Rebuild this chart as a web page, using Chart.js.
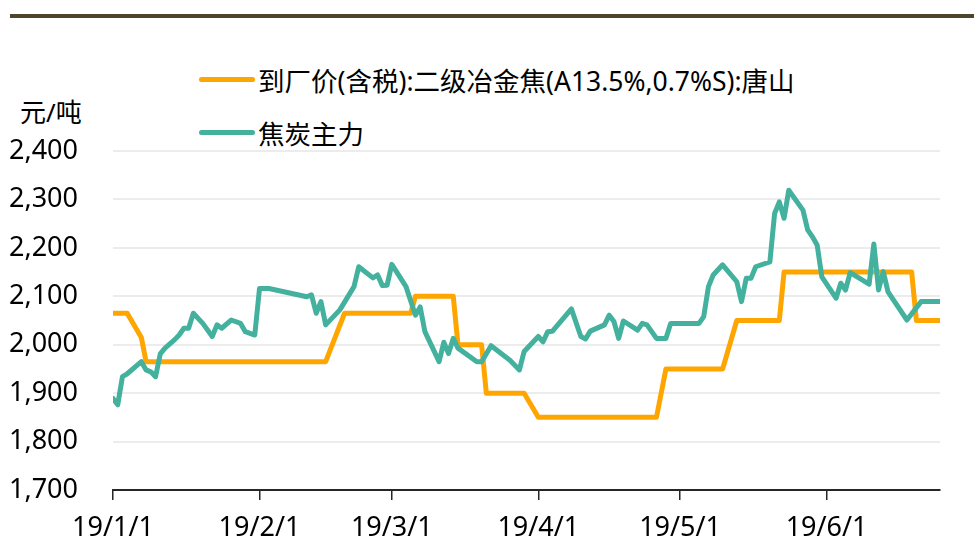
<!DOCTYPE html>
<html>
<head>
<meta charset="utf-8">
<script src="https://cdn.jsdelivr.net/npm/chart.js@4.4.1/dist/chart.umd.min.js"></script>
<style>
  body { margin: 0; background: #fff; }
  #wrap { position: relative; width: 974px; height: 543px; font-family: "Noto Sans", "Noto Sans CJK SC", sans-serif; }
  #topRule { position: absolute; left: 10px; right: 0; top: 14px; height: 4px; background: #4f4528; }
  #unit { position: absolute; left: 20px; top: 96px; font-size: 26px; line-height: 32px; color: #000; }
  .leg { position: absolute; left: 199px; height: 32px; display: flex; align-items: center; font-size: 26.5px; color: #000; white-space: nowrap; }
  .leg i { display: inline-block; width: 56px; height: 5px; border-radius: 3px; margin-right: 3px; }
  canvas { position: absolute; left: 0; top: 0; }
</style>
</head>
<body>
<div id="wrap">
  <div id="topRule"></div>
  <div id="unit">元/吨</div>
  <div id="legend"></div>
  <canvas id="cokeChart" width="974" height="543"></canvas>
</div>
<script>
// 到厂价(含税):二级冶金焦:唐山 —— 只记拐点
const priceDates = ['01-01', '01-04', '01-07', '01-08', '02-15', '02-19', '03-05', '03-06', '03-14', '03-15',
  '03-20', '03-21', '03-29', '04-01', '04-26', '04-28', '05-10', '05-13', '05-22', '05-23', '06-19', '06-20', '06-25'];
const priceValues = [2065, 2065, 2015, 1965, 1965, 2065, 2065, 2100, 2100, 2000,
  2000, 1900, 1900, 1850, 1850, 1950, 1950, 2050, 2050, 2150, 2150, 2050, 2050];

// 焦炭主力
const futuresDates = ['01-01', '01-02', '01-03', '01-04', '01-07', '01-08', '01-09', '01-10', '01-11', '01-12',
  '01-14', '01-15', '01-16', '01-17', '01-18', '01-20', '01-22', '01-23', '01-24', '01-26',
  '01-28', '01-29', '01-31', '02-01', '02-03', '02-11', '02-12', '02-13', '02-14', '02-15',
  '02-18', '02-21', '02-22', '02-25', '02-26', '02-27', '02-28', '03-01', '03-04', '03-06',
  '03-07', '03-08', '03-11', '03-12', '03-13', '03-14', '03-15', '03-19', '03-20', '03-22',
  '03-26', '03-28', '03-29', '04-01', '04-02', '04-03', '04-04', '04-08', '04-10', '04-11',
  '04-12', '04-15', '04-16', '04-17', '04-18', '04-19', '04-22', '04-23', '04-24', '04-26',
  '04-28', '04-29', '05-05', '05-06', '05-07', '05-08', '05-10', '05-13', '05-14', '05-15',
  '05-16', '05-17', '05-20', '05-21', '05-22', '05-23', '05-24', '05-27', '05-28', '05-29',
  '05-30', '05-31', '06-03', '06-04', '06-05', '06-06', '06-10', '06-11', '06-12', '06-13',
  '06-14', '06-18', '06-21', '06-25'];
const futuresValues = [1889, 1876, 1934, 1940, 1965, 1948, 1944, 1934, 1981, 1993,
  2010, 2020, 2034, 2034, 2065, 2044, 2017, 2041, 2034, 2051,
  2044, 2027, 2020, 2116, 2116, 2099, 2103, 2065, 2089, 2041,
  2072, 2120, 2161, 2138, 2144, 2122, 2123, 2166, 2120, 2061,
  2078, 2027, 1965, 2005, 1982, 2013, 1993, 1965, 1965, 1998,
  1968, 1948, 1986, 2017, 2006, 2027, 2028, 2074, 2017, 2012,
  2028, 2041, 2061, 2048, 2013, 2049, 2030, 2044, 2041, 2013,
  2013, 2044, 2044, 2058, 2120, 2144, 2165, 2130, 2089, 2137,
  2137, 2161, 2171, 2271, 2295, 2261, 2319, 2278, 2237, 2223,
  2206, 2140, 2096, 2127, 2113, 2149, 2125, 2208, 2113, 2151,
  2109, 2051, 2089, 2089];

const xTickDates = ['01-01', '02-01', '03-01', '04-01', '05-01', '06-01'];
const xTickLabels = ['19/1/1', '19/2/1', '19/3/1', '19/4/1', '19/5/1', '19/6/1'];
const xEndDate = '06-25';

const seriesNames = ['到厂价(含税):二级冶金焦(A13.5%,0.7%S):唐山', '焦炭主力'];
const seriesColors = ['#FFA500', '#43B19D'];

const start = Date.UTC(2019, 0, 1);
function dayOf(md) {
  return (Date.parse('2019-' + md) - start) / 86400000;
}
function toPoints(dates, values) {
  return dates.map((d, i) => ({ x: dayOf(d), y: values[i] }));
}
const tickDays = xTickDates.map(dayOf);

const ctx = document.getElementById('cokeChart').getContext('2d');
const chart = new Chart(ctx, {
  type: 'line',
  data: {
    datasets: [{
      label: seriesNames[0],
      data: toPoints(priceDates, priceValues),
      borderColor: seriesColors[0],
      backgroundColor: seriesColors[0],
      borderWidth: 5,
      order: 1
    }, {
      label: seriesNames[1],
      data: toPoints(futuresDates, futuresValues),
      borderColor: seriesColors[1],
      backgroundColor: seriesColors[1],
      borderWidth: 5,
      order: 0
    }]
  },
  options: {
    responsive: false,
    animation: false,
    devicePixelRatio: 1,
    elements: {
      point: { radius: 0 },
      line: { tension: 0, borderJoinStyle: 'round', borderCapStyle: 'round' }
    },
    layout: { padding: { top: 151, right: 34, left: 0, bottom: 0 } },
    plugins: {
      legend: { display: false },
      tooltip: { enabled: false }
    },
    scales: {
      x: {
        type: 'linear',
        min: 0,
        max: dayOf(xEndDate),
        afterFit(scale) { scale.height = 53; },
        afterBuildTicks(scale) { scale.ticks = tickDays.map(v => ({ value: v })); },
        grid: { drawOnChartArea: false, drawTicks: true, tickLength: 10, color: '#262626', lineWidth: 1.5 },
        border: { display: true, color: '#262626', width: 2 },
        ticks: {
          padding: 12,
          autoSkip: false,
          maxRotation: 0,
          color: '#000',
          font: { family: '"Noto Sans", "Noto Sans CJK SC", sans-serif', size: 27 },
          callback: v => xTickLabels[tickDays.indexOf(v)]
        }
      },
      y: {
        min: 1700,
        max: 2400,
        afterFit(scale) { scale.width = 113; },
        grid: { color: '#ececec', lineWidth: 2, drawTicks: false },
        border: { display: false },
        ticks: {
          stepSize: 100,
          padding: 35,
          color: '#000',
          font: { family: '"Noto Sans", "Noto Sans CJK SC", sans-serif', size: 27 },
          callback: v => v.toLocaleString('en-US')
        }
      }
    }
  }
});

// 图例
const legendBox = document.getElementById('legend');
const legendTops = [63, 116];
chart.data.datasets.forEach((ds, i) => {
  const row = document.createElement('div');
  row.className = 'leg';
  row.style.top = legendTops[i] + 'px';
  const swatch = document.createElement('i');
  swatch.style.background = ds.borderColor;
  row.appendChild(swatch);
  row.appendChild(document.createTextNode(ds.label));
  legendBox.appendChild(row);
});
</script>
</body>
</html>
